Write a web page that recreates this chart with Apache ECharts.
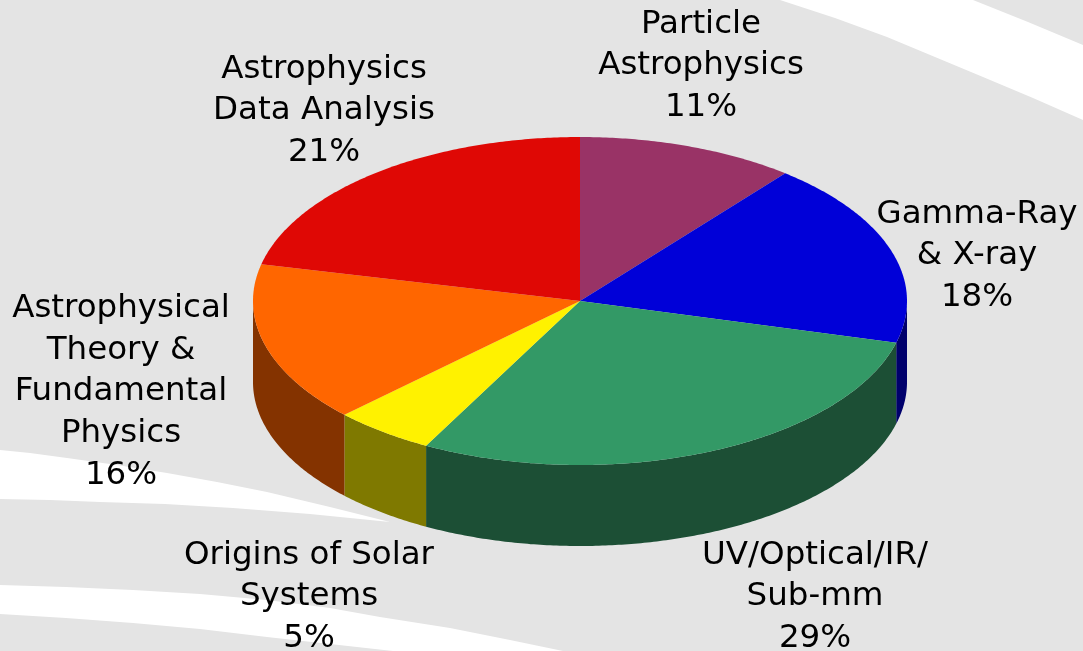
<!DOCTYPE html>
<html>
<head>
<meta charset="utf-8">
<style>html,body{margin:0;padding:0;background:#e4e4e4}#c{width:1083px;height:651px}</style>
<script src="https://cdn.jsdelivr.net/npm/echarts@6/dist/echarts.min.js"></script>
</head>
<body>
<div id="c"></div>
<script>
const categories = ['Particle\nAstrophysics','Gamma-Ray\n& X-ray','UV/Optical/IR/\nSub-mm','Origins of Solar\nSystems','Astrophysical\nTheory &\nFundamental\nPhysics','Astrophysics\nData Analysis'];
const shares = [10.8,18.3,28.7,5.0,15.8,21.4];
const topColors = ['#993366','#0000d8','#339966','#fff200','#ff6600','#df0805'];
const sideColors = ['#4c1933','#00006c','#1c4f35','#7f7900','#843300','#700400'];

const CX = 580, CY = 301, RX = 327, RY = 164, DEPTH = 81;
const labelAnchors = [[701,66],[977,256],[815,597],[309,597],[121,392],[324,111]];
const total = shares.reduce((a,b)=>a+b,0);
const startOf = i => shares.slice(0,i).reduce((a,b)=>a+b,0)/total*Math.PI*2;
const pt = (t,dy) => [CX+RX*Math.sin(t), CY-RY*Math.cos(t)+(dy||0)];
function arc(a,b,dy){
  const n = Math.max(2,Math.ceil((b-a)/0.01)), out=[];
  for(let k=0;k<=n;k++) out.push(pt(a+(b-a)*k/n,dy));
  return out;
}
function band(pts,fill){return {type:'polygon',silent:true,shape:{points:pts},style:{fill:fill}};}

const swooshes = [
  [[973,0],[1028,22],[1083,45],[1083,120],[1033,98],[983,77],[935,57],[887,37],[835,18],[780,0]],
  [[0,450],[30,453],[67,458],[117,465],[167,473],[217,482],[267,492],[330,507],[390,522],[310,514],[233,508],[165,504],[100,502],[50,500],[0,499]],
  [[0,585],[66,587],[133,590],[200,594],[267,600],[330,608],[380,617],[450,628],[510,640],[563,651],[393,651],[330,644],[267,637],[200,629],[133,623],[66,618],[0,614]]
];

const chart = echarts.init(document.getElementById('c'),null,{renderer:'canvas'});
const rows = shares.map((v,i)=>[i,v]);
chart.setOption({
  backgroundColor:'#e4e4e4',
  animation:false,
  graphic:{elements:swooshes.map(p=>({type:'polygon',silent:true,z:0,shape:{points:p},style:{fill:'#ffffff'}}))},
  series:[
    {type:'custom',coordinateSystem:'none',z:2,silent:true,data:rows,
     renderItem:(p,api)=>{
       const i=api.value(0), a=startOf(i), b=a+api.value(1)/total*Math.PI*2;
       const lo=Math.max(a,Math.PI/2), hi=Math.min(b,Math.PI*1.5);
       if(hi<=lo) return {type:'group',children:[]};
       return band(arc(lo,hi,0).concat(arc(lo,hi,DEPTH).reverse()),sideColors[i]);
     }},
    {type:'custom',coordinateSystem:'none',z:3,silent:true,data:rows,
     renderItem:(p,api)=>{
       const i=api.value(0), a=startOf(i), b=a+api.value(1)/total*Math.PI*2;
       return band([[CX,CY]].concat(arc(a,b,0)),topColors[i]);
     }},
    {type:'custom',coordinateSystem:'none',z:4,silent:true,data:rows,
     renderItem:(p,api)=>{
       const i=api.value(0);
       return {type:'text',silent:true,x:labelAnchors[i][0],y:labelAnchors[i][1],
         style:{text:categories[i]+'\n'+Math.round(api.value(1))+'%',fill:'#000',align:'center',verticalAlign:'middle',
           font:'32.5px "DejaVu Sans"',lineHeight:41.7}};
     }}
  ]
});
</script>
</body>
</html>
